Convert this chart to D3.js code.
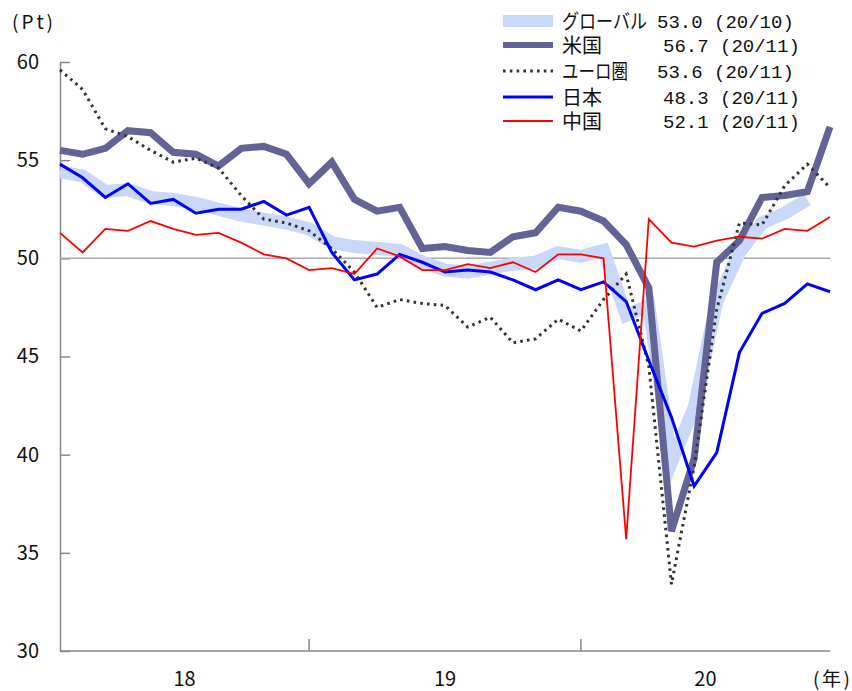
<!DOCTYPE html>
<html lang="ja">
<head>
  <meta charset="UTF-8">
  <title>PMI</title>
  <script src="https://d3js.org/d3.v7.min.js"></script>
  <style>
    body { margin: 0; background: #fff; }
    svg text { font-family: "Noto Sans CJK JP", "Noto Sans", sans-serif; fill: #111; }
    .axis path, .axis line { stroke: #888; stroke-width: 1.5px; }
    svg text.lgname { font-family: "Liberation Sans", "Noto Sans CJK JP", sans-serif; }
    svg text.mono { font-family: "Liberation Mono", "DejaVu Sans Mono", monospace; }
  </style>
</head>
<body>
  <div id="chart"></div>
  <script>
    // monthly, 2018-01 .. 2020-11
    const months = d3.range(35).map(i => `${2018 + Math.floor(i / 12)}-${String(i % 12 + 1).padStart(2, "0")}`);
    const yearLabels = ["18", "19", "20"];
    const yTicks = [30, 35, 40, 45, 50, 55, 60];

    const globalPmi = [54.4, 54.2, 53.4, 53.5, 53.1, 53.0, 52.8, 52.5, 52.2, 52.0, 51.8, 51.5,
                       50.8, 50.6, 50.5, 50.4, 49.8, 49.4, 49.3, 49.5, 49.7, 49.8, 50.3, 50.1,
                       50.4, 47.1, 47.6, 39.6, 42.4, 47.8, 50.3, 51.8, 52.3, 53.0];
    const usPmi = [55.5, 55.3, 55.6, 56.5, 56.4, 55.4, 55.3, 54.7, 55.6, 55.7, 55.3, 53.8,
                   54.9, 53.0, 52.4, 52.6, 50.5, 50.6, 50.4, 50.3, 51.1, 51.3, 52.6, 52.4,
                   51.9, 50.7, 48.5, 36.1, 39.8, 49.8, 50.9, 53.1, 53.2, 53.4, 56.7];
    const euroPmi = [59.6, 58.6, 56.6, 56.2, 55.5, 54.9, 55.1, 54.6, 53.2, 52.0, 51.8, 51.4,
                     50.5, 49.3, 47.5, 47.9, 47.7, 47.6, 46.5, 47.0, 45.7, 45.9, 46.9, 46.3,
                     47.9, 49.2, 44.5, 33.4, 39.4, 47.4, 51.8, 51.7, 53.7, 54.8, 53.6];
    const japanPmi = [54.8, 54.1, 53.1, 53.8, 52.8, 53.0, 52.3, 52.5, 52.5, 52.9, 52.2, 52.6,
                      50.3, 48.9, 49.2, 50.2, 49.8, 49.3, 49.4, 49.3, 48.9, 48.4, 48.9, 48.4,
                      48.8, 47.8, 44.8, 41.9, 38.4, 40.1, 45.2, 47.2, 47.7, 48.7, 48.3];
    const chinaPmi = [51.3, 50.3, 51.5, 51.4, 51.9, 51.5, 51.2, 51.3, 50.8, 50.2, 50.0, 49.4,
                      49.5, 49.2, 50.5, 50.1, 49.4, 49.4, 49.7, 49.5, 49.8, 49.3, 50.2, 50.2,
                      50.0, 35.7, 52.0, 50.8, 50.6, 50.9, 51.1, 51.0, 51.5, 51.4, 52.1];

    const seriesNames = ["グローバル", "米国", "ユーロ圏", "日本", "中国"];
    const latestLabels = ["53.0 (20/10)", "56.7 (20/11)", "53.6 (20/11)", "48.3 (20/11)", "52.1 (20/11)"];

    const width = 852, height = 691;
    const plotLeft = 60, plotRight = 830, plotTop = 62, plotBottom = 651;

    const svg = d3.select("#chart").append("svg")
      .attr("width", width)
      .attr("height", height);

    const x = d3.scaleLinear().domain([0, months.length - 1]).range([plotLeft, plotRight]);
    const y = d3.scaleLinear().domain([30, 60]).range([plotBottom, plotTop]);

    // y axis
    svg.append("g")
      .attr("class", "axis")
      .attr("transform", `translate(${plotLeft},0)`)
      .call(d3.axisLeft(y).tickValues(yTicks).tickSizeInner(-10).tickSizeOuter(0).tickPadding(21))
      .call(g => g.selectAll("text").style("font-size", "20px").attr("fill", "#111"));

    // x axis: year boundaries at December
    const yearEnds = [11, 23];
    svg.append("line")
      .attr("x1", plotLeft).attr("x2", plotRight)
      .attr("y1", plotBottom).attr("y2", plotBottom)
      .attr("stroke", "#888").attr("stroke-width", 1.5);
    svg.selectAll(".xtick").data(yearEnds).enter().append("line")
      .attr("x1", d => x(d)).attr("x2", d => x(d))
      .attr("y1", plotBottom).attr("y2", plotBottom - 12)
      .attr("stroke", "#888").attr("stroke-width", 1.5);

    const yearMid = [5.5, 17, 28.5];
    svg.selectAll(".year").data(yearLabels).enter().append("text")
      .attr("x", (d, i) => x(yearMid[i]))
      .attr("y", 686)
      .attr("text-anchor", "middle")
      .style("font-size", "20px")
      .text(d => d);

    svg.append("text").attr("x", 813).attr("y", 686).style("font-size", "19px")
      .attr("textLength", 37).attr("lengthAdjust", "spacing").text("(年)");
    svg.append("text").attr("x", 12).attr("y", 29).style("font-size", "19px")
      .attr("textLength", 41).attr("lengthAdjust", "spacing").text("(Pt)");

    // 50 line
    svg.append("line")
      .attr("x1", plotLeft).attr("x2", plotRight)
      .attr("y1", y(50)).attr("y2", y(50))
      .attr("stroke", "#aaa").attr("stroke-width", 1.5);

    const line = d3.line().x((d, i) => x(i)).y(d => y(d));

    const styles = [
      { data: globalPmi, color: "#c9d8f8", w: 13, dash: null },
      { data: usPmi, color: "#636396", w: 7, dash: null },
      { data: euroPmi, color: "#333", w: 3, dash: "2.6,4.2" },
      { data: japanPmi, color: "#0000ff", w: 3, dash: null },
      { data: chinaPmi, color: "#ff0000", w: 1.8, dash: null }
    ];

    styles.forEach(s => {
      svg.append("path")
        .datum(s.data)
        .attr("d", line)
        .attr("fill", "none")
        .attr("stroke", s.color)
        .attr("stroke-width", s.w)
        .attr("stroke-linejoin", "miter")
        .attr("stroke-dasharray", s.dash);
    });

    // legend
    const legendY = [21, 45, 71, 97, 121];
    const valueX = [657, 663, 657, 663, 663];
    const nameLen = [85, null, 66, null, null];
    const legend = svg.append("g");
    styles.forEach((s, i) => {
      legend.append("line")
        .attr("x1", 503).attr("x2", 553)
        .attr("y1", legendY[i]).attr("y2", legendY[i])
        .attr("stroke", s.color)
        .attr("stroke-width", i === 0 ? 12 : (i === 1 ? 6 : s.w))
        .attr("stroke-dasharray", s.dash);
      const t = legend.append("text")
        .attr("class", "lgname")
        .attr("x", 562).attr("y", legendY[i] + 8)
        .style("font-size", "20px")
        .text(seriesNames[i]);
      if (nameLen[i]) t.attr("textLength", nameLen[i]).attr("lengthAdjust", "spacingAndGlyphs");
      legend.append("text")
        .attr("class", "mono")
        .attr("x", valueX[i]).attr("y", legendY[i] + 7)
        .style("font-size", "19px")
        .text(latestLabels[i]);
    });
  </script>
</body>
</html>
